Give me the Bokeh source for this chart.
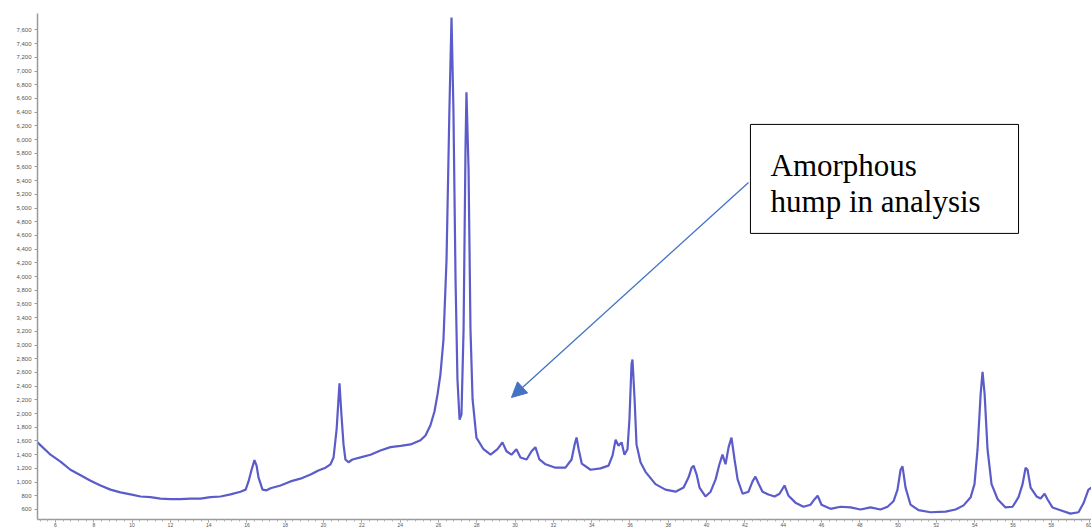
from bokeh.plotting import figure
from bokeh.models import (Range1d, BoxAnnotation, Label, Arrow, NormalHead,
                          NumeralTickFormatter, FixedTicker)
from bokeh.embed import file_html
from bokeh.resources import INLINE

# ---- data ----
two_theta = [5.06, 5.74, 6.26, 6.78, 7.31, 7.83, 8.35, 8.87, 9.39, 9.92, 10.44, 10.96, 11.48, 12.01,
             12.53, 13.05, 13.57, 14.09, 14.62, 15.14, 15.66, 15.93, 16.08, 16.24, 16.39, 16.50,
             16.60, 16.81, 17.02, 17.23, 17.75, 18.27, 18.79, 19.32, 19.73, 20.10, 20.36, 20.52,
             20.68, 20.83, 20.93, 21.04, 21.14, 21.30, 21.51, 21.93, 22.45, 22.97, 23.49, 24.02,
             24.54, 25.06, 25.32, 25.58, 25.79, 25.95, 26.10, 26.26, 26.42, 26.57, 26.68, 26.78,
             26.89, 26.99, 27.10, 27.20, 27.31, 27.41, 27.46, 27.57, 27.67, 27.78, 27.98, 28.35,
             28.72, 29.08, 29.34, 29.55, 29.81, 30.07, 30.28, 30.60, 30.86, 31.06, 31.27, 31.59,
             32.11, 32.63, 32.95, 33.11, 33.21, 33.32, 33.48, 33.94, 34.46, 34.88, 35.09, 35.25,
             35.40, 35.56, 35.71, 35.87, 35.97, 36.08, 36.13, 36.24, 36.34, 36.55, 36.81, 37.33,
             37.85, 38.38, 38.80, 39.06, 39.22, 39.32, 39.48, 39.63, 39.94, 40.21, 40.47, 40.67,
             40.83, 40.99, 41.15, 41.30, 41.46, 41.62, 41.88, 42.19, 42.40, 42.55, 42.71, 42.92,
             43.23, 43.55, 43.81, 44.07, 44.28, 44.64, 45.06, 45.43, 45.64, 45.80, 46.00, 46.47,
             47.00, 47.52, 48.04, 48.56, 49.08, 49.45, 49.76, 49.97, 50.13, 50.23, 50.39, 50.65,
             51.07, 51.69, 52.48, 53.00, 53.42, 53.79, 53.99, 54.15, 54.31, 54.41, 54.52, 54.67,
             54.88, 55.20, 55.61, 55.98, 56.29, 56.50, 56.66, 56.76, 56.92, 57.23, 57.44, 57.65,
             57.80, 58.06, 58.48, 59.00, 59.42, 59.68, 59.94, 60.10]
intensity = [1580, 1400, 1300, 1180, 1100, 1020, 950, 890, 850, 820, 790, 780, 760, 750,
             750, 760, 760, 780, 790, 820, 860, 890, 1010, 1180, 1320, 1240,
             1070, 890, 880, 910, 950, 1010, 1050, 1110, 1170, 1210, 1260, 1360,
             1770, 2440, 1990, 1550, 1330, 1290, 1330, 1360, 1400, 1460, 1510, 1530,
             1550, 1610, 1680, 1830, 2030, 2280, 2570, 3080, 4250, 6440, 7780, 6440,
             3960, 2500, 1910, 1990, 3230, 5860, 6690, 5570, 3230, 2210, 1650, 1480,
             1400, 1480, 1580, 1450, 1400, 1480, 1360, 1330, 1450, 1510, 1330, 1260,
             1210, 1210, 1330, 1550, 1650, 1480, 1270, 1180, 1200, 1240, 1390, 1620,
             1530, 1580, 1400, 1480, 1910, 2720, 2790, 2210, 1550, 1290, 1150, 970,
             890, 860, 920, 1070, 1210, 1240, 1110, 920, 790, 860, 1040, 1260,
             1400, 1260, 1510, 1650, 1330, 1040, 830, 860, 1010, 1080, 980, 860,
             820, 790, 830, 950, 800, 700, 640, 670, 750, 800, 670, 610,
             640, 630, 600, 630, 600, 640, 720, 890, 1180, 1230, 920, 670,
             590, 560, 570, 600, 660, 780, 970, 1480, 2280, 2610, 2280, 1480,
             970, 750, 630, 640, 780, 970, 1210, 1180, 920, 790, 760, 830,
             750, 630, 590, 540, 560, 690, 890, 920]
x_ticks = list(range(6, 61, 2))
y_ticks = list(range(600, 7601, 200))
note_lines = ["Amorphous", "hump in analysis"]

# ---- figure ----
p = figure(width=1091, height=529, output_backend="svg", toolbar_location=None,
           x_range=Range1d(5.06, 60.1), y_range=Range1d(454, 7840),
           min_border_left=37, min_border_right=0, min_border_top=13, min_border_bottom=9)
p.outline_line_color = None
p.grid.visible = False
p.background_fill_color = "white"

p.line(two_theta, intensity, line_color="#3e3ec0", line_width=2.2, line_alpha=0.85)

# y axis
p.yaxis.ticker = FixedTicker(ticks=y_ticks)
p.yaxis.formatter = NumeralTickFormatter(format="0,0")
p.yaxis.major_label_text_font_size = "6px"
p.yaxis.major_label_text_color = "#555555"
p.yaxis.major_label_standoff = 3
p.yaxis.axis_line_color = "#9a9a9a"
p.yaxis.axis_line_width = 1.5
p.yaxis.major_tick_line_color = "#9a9a9a"
p.yaxis.major_tick_out = 3
p.yaxis.major_tick_in = 0
p.yaxis.minor_tick_line_color = None

# x axis
p.xaxis.ticker = FixedTicker(ticks=x_ticks, minor_ticks=[5.2 + 0.4 * i for i in range(140)])
p.xaxis.major_label_text_font_size = "5px"
p.xaxis.major_label_text_color = "#555555"
p.xaxis.major_label_standoff = 0
p.xaxis.axis_line_color = "#9a9a9a"
p.xaxis.axis_line_width = 1.5
p.xaxis.major_tick_line_color = "#9a9a9a"
p.xaxis.major_tick_out = 3
p.xaxis.major_tick_in = 0
p.xaxis.minor_tick_line_color = "#b0b0b0"
p.xaxis.minor_tick_out = 2
p.xaxis.minor_tick_in = 0

# annotation box
box = BoxAnnotation(left=42.29, right=56.29, bottom=4630, top=6221,
                    fill_color="white", fill_alpha=1.0,
                    line_color="black", line_width=1, line_alpha=1.0)
p.add_layout(box)
p.add_layout(Label(x=43.34, y=5622, text=note_lines[0], text_font="Liberation Serif",
                   text_font_size="31px", text_color="black", text_baseline="alphabetic"))
p.add_layout(Label(x=43.34, y=5097, text=note_lines[1], text_font="Liberation Serif",
                   text_font_size="31px", text_color="black", text_baseline="alphabetic"))

arrow = Arrow(end=NormalHead(size=15, fill_color="#4472C4", line_color="#4472C4"),
              x_start=42.19, y_start=5374, x_end=29.81, y_end=2235,
              line_color="#4472C4", line_width=1.3)
p.add_layout(arrow)

open("out.html", "w").write(file_html(p, INLINE))
